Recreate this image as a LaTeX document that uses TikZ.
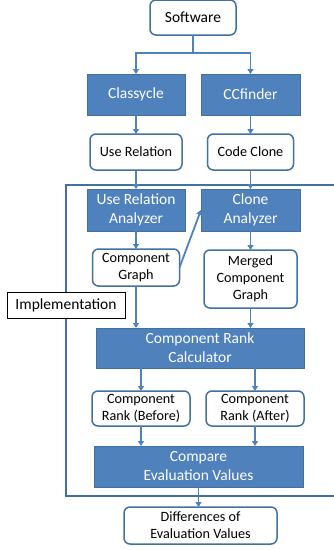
\documentclass[tikz,border=0pt]{standalone}
\usepackage{fontspec}
\setmainfont{Carlito}
\usepackage{xcolor}
\usetikzlibrary{positioning,arrows.meta}
\definecolor{boxblue}{HTML}{4F81BD}
\definecolor{edgeblue}{HTML}{41719C}
\begin{document}
\begin{tikzpicture}[
  x=1pt, y=1pt,
  procbox/.style={draw=edgeblue, fill=boxblue, text=white, line width=1pt, inner sep=0pt, outer sep=0pt, align=center, font=\fontsize{15.5}{19}\selectfont},
  databox/.style={draw=edgeblue, fill=white, rounded corners=6pt, line width=1.5pt, inner sep=0pt, outer sep=0pt, align=center, font=\fontsize{14.2}{17}\selectfont},
  labelbox/.style={draw=black, fill=white, line width=0.6pt, inner sep=0pt, minimum width=118pt, minimum height=26pt, font=\fontsize{15.5}{19}\selectfont},
  arrow/.style={-{Triangle[length=5pt,width=6pt]}, line width=1.8pt, draw=boxblue}
]
\clip (0,0) rectangle (334,-550);
% implementation frame, open on the right
\draw[edgeblue, line width=1.4pt] (66,-185) rectangle (345,-496);

\node[databox, minimum width=86pt, minimum height=35pt, font=\fontsize{15.5}{19}\selectfont] (sw) at (193,-17.5) {Software};

\node[procbox, minimum width=98pt, minimum height=41pt, below=39pt of sw, xshift=-57pt] (cls) {Classycle};
\node[procbox, minimum width=99pt, minimum height=41pt, right=16pt of cls] (ccf) {CCfinder};

\node[databox, minimum width=92pt, minimum height=36pt, below=19pt of cls] (ur) {Use Relation};
\node[databox, minimum width=86pt, minimum height=36pt, below=19pt of ccf] (cc) {Code Clone};

\node[procbox, minimum width=98pt, minimum height=42pt, below=19pt of ur] (ura) {Use Relation\\Analyzer};
\node[procbox, minimum width=99pt, minimum height=42pt, below=19pt of cc] (ca) {Clone\\Analyzer};

\node[databox, minimum width=87pt, minimum height=37pt, below=18pt of ura] (cg) {Component\\Graph};
\node[databox, minimum width=93pt, minimum height=58pt, below=19pt of ca] (mcg) {Merged\\Component\\Graph};

\node[labelbox] (impl) at (66,-305) {Implementation};

\node[procbox, minimum width=208pt, minimum height=40pt, below=20pt of mcg, xshift=-50.5pt] (calc) {Component Rank\\Calculator};

\node[databox, minimum width=98pt, minimum height=35pt, below=23pt of calc, xshift=-59pt] (crb) {Component\\Rank (Before)};
\node[databox, minimum width=98pt, minimum height=35pt, right=16pt of crb] (cra) {Component\\Rank (After)};

\node[procbox, minimum width=209pt, minimum height=41pt, below=20pt of crb, xshift=57.5pt] (cmp) {Compare\\Evaluation Values};

\node[databox, minimum width=153pt, minimum height=37pt, below=20pt of cmp, xshift=2pt] (diff) {Differences of\\Evaluation Values};

\draw[arrow] (sw.south) -- ++(0,-18) -| (cls);
\draw[arrow] (sw.south) -- ++(0,-18) -| (ccf);
\draw[arrow] (cls) -- (ur);
\draw[arrow] (ccf) -- (cc);
\draw[arrow] (ur) -- (ura);
\draw[arrow] (cc) -- (ca);
\draw[arrow] (ura) -- (cg);
\draw[arrow] (ca) -- (mcg);
\draw[arrow] (cg.east) -- (ca.west);
\draw[arrow] (cg) -- (cg |- calc.north);
\draw[arrow] (mcg) -- (mcg |- calc.north);
\draw[arrow] (calc.south -| crb) -- (crb);
\draw[arrow] (calc.south -| cra) -- (cra);
\draw[arrow] (crb) -- (crb |- cmp.north);
\draw[arrow] (cra) -- (cra |- cmp.north);
\draw[arrow] (cmp.south) -- (cmp.south |- diff.north);
\end{tikzpicture}
\end{document}
